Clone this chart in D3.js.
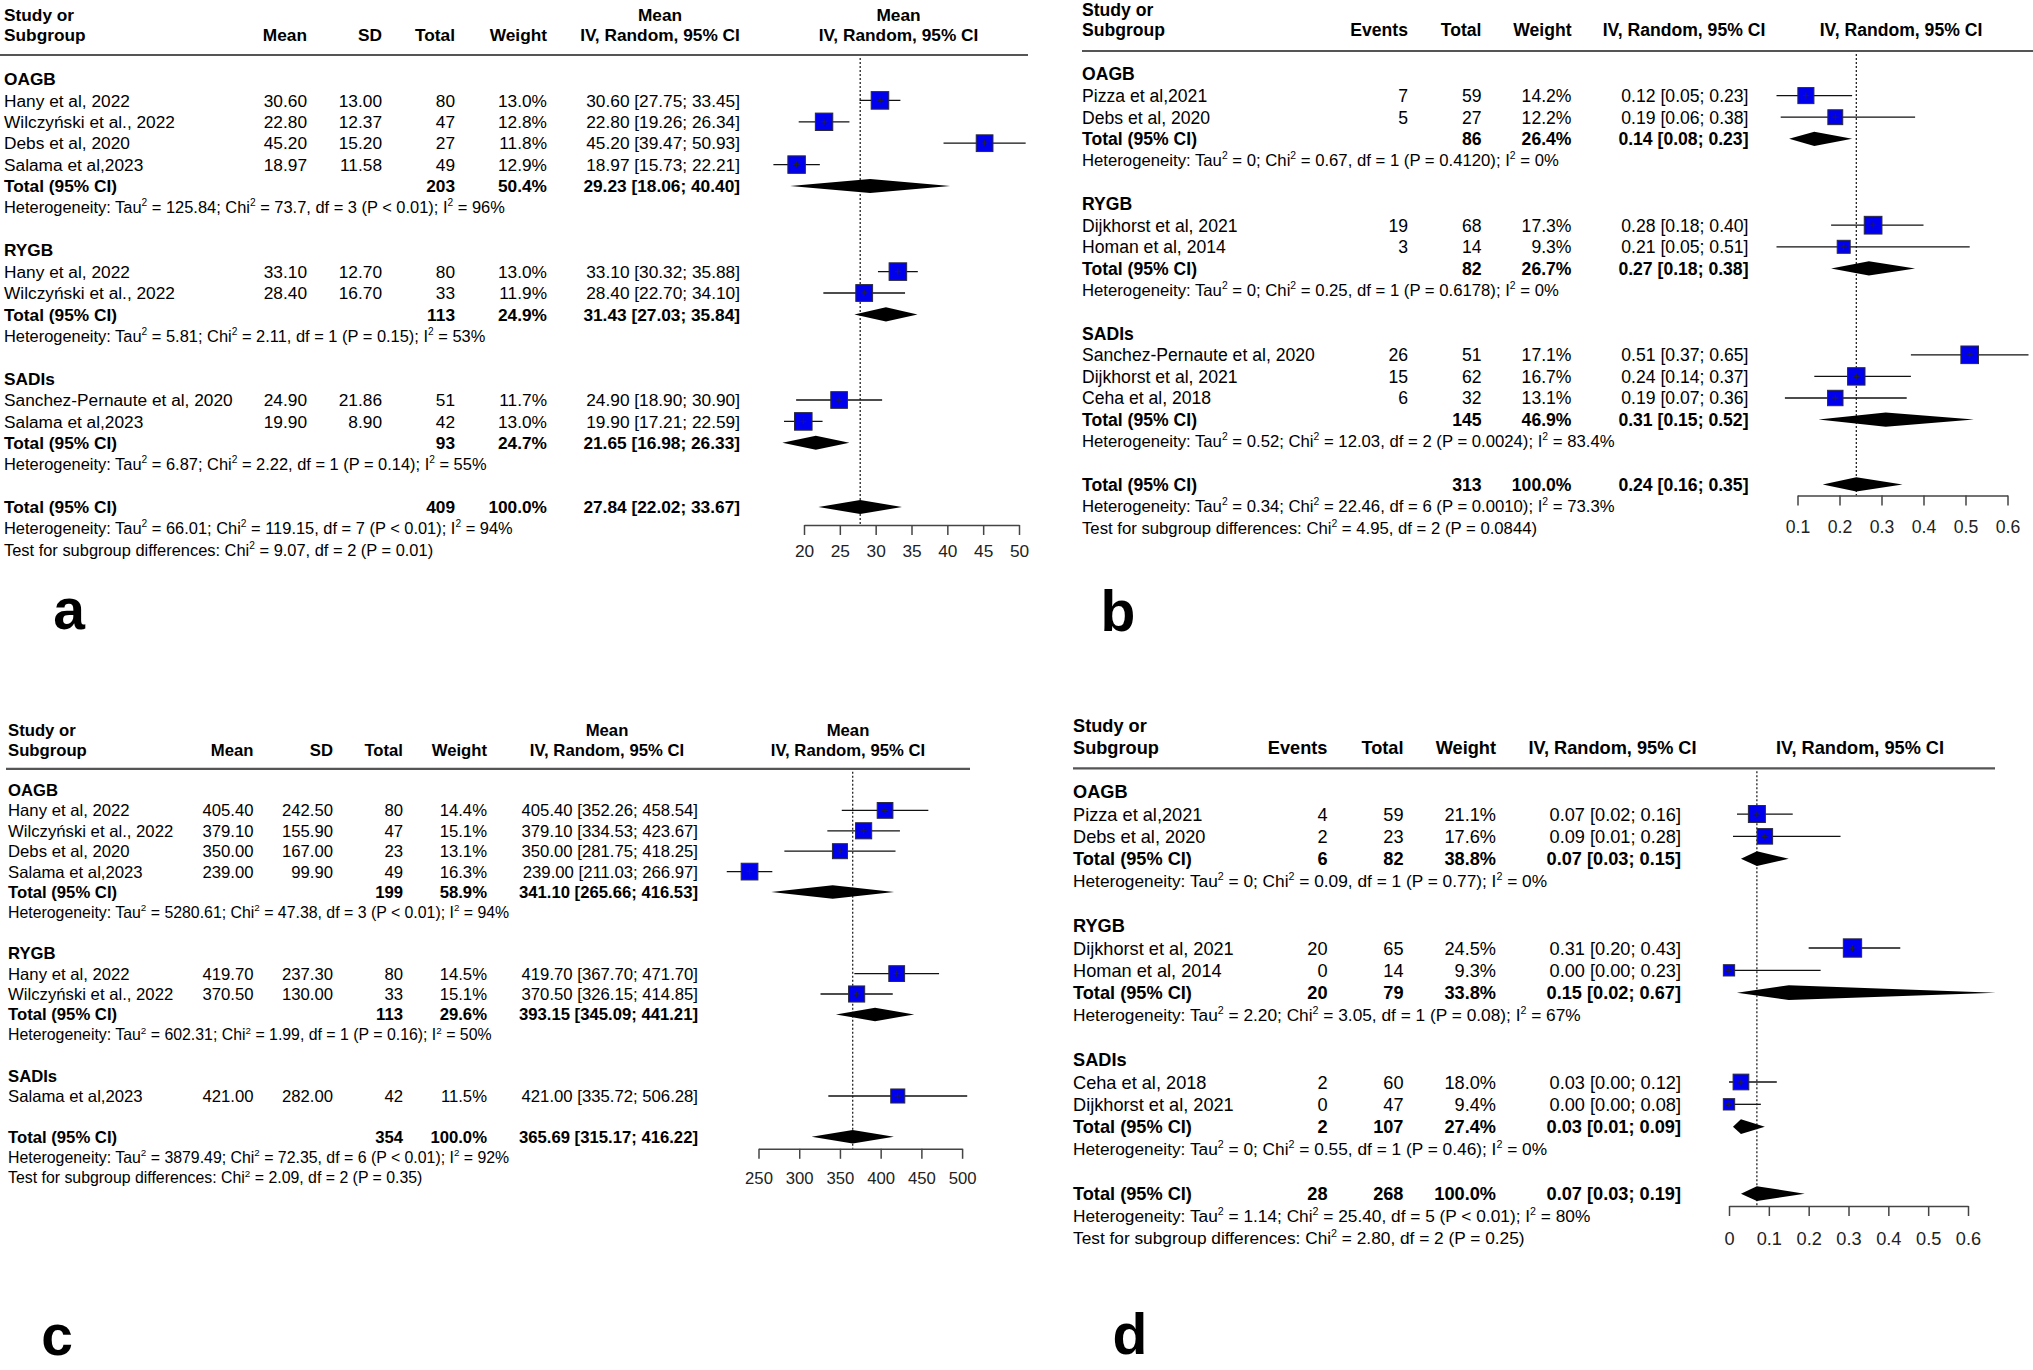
<!DOCTYPE html>
<html>
<head>
<meta charset="utf-8">
<script src="https://cdn.jsdelivr.net/npm/d3@7"></script>
<style>
  body { margin: 0; background: #fff; }
  svg text { font-family: "Liberation Sans", Arial, Helvetica, sans-serif; fill: #000; white-space: pre; }
</style>
</head>
<body>
<script>
// ---------- panel a : mean, IV random ----------
var aGroups = ["OAGB", "RYGB", "SADIs"];
var aStudy = ["Hany et al, 2022", "Wilczyński et al., 2022", "Debs et al, 2020", "Salama et al,2023",
              "Hany et al, 2022", "Wilczyński et al., 2022",
              "Sanchez-Pernaute et al, 2020", "Salama et al,2023"];
var aGroupOf = [0, 0, 0, 0, 1, 1, 2, 2];
var aMean = [30.60, 22.80, 45.20, 18.97, 33.10, 28.40, 24.90, 19.90];
var aSD = [13.00, 12.37, 15.20, 11.58, 12.70, 16.70, 21.86, 8.90];
var aN = [80, 47, 27, 49, 80, 33, 51, 42];
var aW = [13.0, 12.8, 11.8, 12.9, 13.0, 11.9, 11.7, 13.0];
var aLo = [27.75, 19.26, 39.47, 15.73, 30.32, 22.70, 18.90, 17.21];
var aHi = [33.45, 26.34, 50.93, 22.21, 35.88, 34.10, 30.90, 22.59];
var aSubN = [203, 113, 93];
var aSubW = [50.4, 24.9, 24.7];
var aSubEst = [29.23, 31.43, 21.65];
var aSubLo = [18.06, 27.03, 16.98];
var aSubHi = [40.40, 35.84, 26.33];
var aSubHet = ["Heterogeneity: Tau^2 = 125.84; Chi^2 = 73.7, df = 3 (P < 0.01); I^2 = 96%",
               "Heterogeneity: Tau^2 = 5.81; Chi^2 = 2.11, df = 1 (P = 0.15); I^2 = 53%",
               "Heterogeneity: Tau^2 = 6.87; Chi^2 = 2.22, df = 1 (P = 0.14); I^2 = 55%"];
var aAll = [409, 100.0, 27.84, 22.02, 33.67]; // n, weight, est, lo, hi
var aFoot = ["Heterogeneity: Tau^2 = 66.01; Chi^2 = 119.15, df = 7 (P < 0.01); I^2 = 94%",
             "Test for subgroup differences: Chi^2 = 9.07, df = 2 (P = 0.01)"];
var aTicks = [20, 25, 30, 35, 40, 45, 50];

// ---------- panel b : proportions ----------
var bGroups = ["OAGB", "RYGB", "SADIs"];
var bStudy = ["Pizza et al,2021", "Debs et al, 2020", "Dijkhorst et al, 2021", "Homan et al, 2014",
              "Sanchez-Pernaute et al, 2020", "Dijkhorst et al, 2021", "Ceha et al, 2018"];
var bGroupOf = [0, 0, 1, 1, 2, 2, 2];
var bEvents = [7, 5, 19, 3, 26, 15, 6];
var bN = [59, 27, 68, 14, 51, 62, 32];
var bW = [14.2, 12.2, 17.3, 9.3, 17.1, 16.7, 13.1];
var bEst = [0.12, 0.19, 0.28, 0.21, 0.51, 0.24, 0.19];
var bLo = [0.05, 0.06, 0.18, 0.05, 0.37, 0.14, 0.07];
var bHi = [0.23, 0.38, 0.40, 0.51, 0.65, 0.37, 0.36];
var bSubN = [86, 82, 145];
var bSubW = [26.4, 26.7, 46.9];
var bSubEst = [0.14, 0.27, 0.31];
var bSubLo = [0.08, 0.18, 0.15];
var bSubHi = [0.23, 0.38, 0.52];
var bSubHet = ["Heterogeneity: Tau^2 = 0; Chi^2 = 0.67, df = 1 (P = 0.4120); I^2 = 0%",
               "Heterogeneity: Tau^2 = 0; Chi^2 = 0.25, df = 1 (P = 0.6178); I^2 = 0%",
               "Heterogeneity: Tau^2 = 0.52; Chi^2 = 12.03, df = 2 (P = 0.0024); I^2 = 83.4%"];
var bAll = [313, 100.0, 0.24, 0.16, 0.35];
var bFoot = ["Heterogeneity: Tau^2 = 0.34; Chi^2 = 22.46, df = 6 (P = 0.0010); I^2 = 73.3%",
             "Test for subgroup differences: Chi^2 = 4.95, df = 2 (P = 0.0844)"];
var bTicks = [0.1, 0.2, 0.3, 0.4, 0.5, 0.6];

// ---------- panel c : mean, IV random ----------
var cGroups = ["OAGB", "RYGB", "SADIs"];
var cStudy = ["Hany et al, 2022", "Wilczyński et al., 2022", "Debs et al, 2020", "Salama et al,2023",
              "Hany et al, 2022", "Wilczyński et al., 2022", "Salama et al,2023"];
var cGroupOf = [0, 0, 0, 0, 1, 1, 2];
var cMean = [405.40, 379.10, 350.00, 239.00, 419.70, 370.50, 421.00];
var cSD = [242.50, 155.90, 167.00, 99.90, 237.30, 130.00, 282.00];
var cN = [80, 47, 23, 49, 80, 33, 42];
var cW = [14.4, 15.1, 13.1, 16.3, 14.5, 15.1, 11.5];
var cLo = [352.26, 334.53, 281.75, 211.03, 367.70, 326.15, 335.72];
var cHi = [458.54, 423.67, 418.25, 266.97, 471.70, 414.85, 506.28];
var cSubN = [199, 113, null];
var cSubW = [58.9, 29.6, null];
var cSubEst = [341.10, 393.15, null];
var cSubLo = [265.66, 345.09, null];
var cSubHi = [416.53, 441.21, null];
var cSubHet = ["Heterogeneity: Tau^2 = 5280.61; Chi^2 = 47.38, df = 3 (P < 0.01); I^2 = 94%",
               "Heterogeneity: Tau^2 = 602.31; Chi^2 = 1.99, df = 1 (P = 0.16); I^2 = 50%",
               null];
var cAll = [354, 100.0, 365.69, 315.17, 416.22];
var cFoot = ["Heterogeneity: Tau^2 = 3879.49; Chi^2 = 72.35, df = 6 (P < 0.01); I^2 = 92%",
             "Test for subgroup differences: Chi^2 = 2.09, df = 2 (P = 0.35)"];
var cTicks = [250, 300, 350, 400, 450, 500];

// ---------- panel d : proportions ----------
var dGroups = ["OAGB", "RYGB", "SADIs"];
var dStudy = ["Pizza et al,2021", "Debs et al, 2020", "Dijkhorst et al, 2021", "Homan et al, 2014",
              "Ceha et al, 2018", "Dijkhorst et al, 2021"];
var dGroupOf = [0, 0, 1, 1, 2, 2];
var dEvents = [4, 2, 20, 0, 2, 0];
var dN = [59, 23, 65, 14, 60, 47];
var dW = [21.1, 17.6, 24.5, 9.3, 18.0, 9.4];
var dEst = [0.07, 0.09, 0.31, 0.00, 0.03, 0.00];
var dLo = [0.02, 0.01, 0.20, 0.00, 0.00, 0.00];
var dHi = [0.16, 0.28, 0.43, 0.23, 0.12, 0.08];
var dSubEvents = [6, 20, 2];
var dSubN = [82, 79, 107];
var dSubW = [38.8, 33.8, 27.4];
var dSubEst = [0.07, 0.15, 0.03];
var dSubLo = [0.03, 0.02, 0.01];
var dSubHi = [0.15, 0.67, 0.09];
var dSubHet = ["Heterogeneity: Tau^2 = 0; Chi^2 = 0.09, df = 1 (P = 0.77); I^2 = 0%",
               "Heterogeneity: Tau^2 = 2.20; Chi^2 = 3.05, df = 1 (P = 0.08); I^2 = 67%",
               "Heterogeneity: Tau^2 = 0; Chi^2 = 0.55, df = 1 (P = 0.46); I^2 = 0%"];
var dAllEvents = 28;
var dAll = [268, 100.0, 0.07, 0.03, 0.19];
var dFoot = ["Heterogeneity: Tau^2 = 1.14; Chi^2 = 25.40, df = 5 (P < 0.01); I^2 = 80%",
             "Test for subgroup differences: Chi^2 = 2.80, df = 2 (P = 0.25)"];
var dTicks = [0, 0.1, 0.2, 0.3, 0.4, 0.5, 0.6];

var W = 2033, H = 1370;
var f2 = d3.format(".2f"), f1 = d3.format(".1f");
function ci(e, l, h) { return f2(e) + " [" + f2(l) + "; " + f2(h) + "]"; }
function pct(w) { return f1(w) + "%"; }

var svg = d3.select("body").append("svg")
  .attr("width", W)
  .attr("height", H);

// text with "^2" turned into superscripts
function supText(g, str, x, y, fs) {
  var t = g.append("text").attr("x", x).attr("y", y).attr("font-size", fs);
  var parts = str.split("^2");
  parts.forEach(function(p, j) {
    var s = t.append("tspan").text(p);
    if (j > 0) s.attr("dy", fs * 0.42);
    if (j < parts.length - 1)
      t.append("tspan").attr("dy", -fs * 0.42).attr("font-size", fs * 0.62).text("2");
  });
  return t;
}

function forest(p) {
  var g = svg.append("g");
  var fs = p.fs, base = 0.36 * fs;

  // build the row list
  var rows = [];
  p.groups.forEach(function(name, gi) {
    rows.push({type: "group", label: name});
    p.study.forEach(function(s, i) {
      if (p.groupOf[i] === gi) rows.push({type: "study", i: i});
    });
    if (p.subHet[gi] !== null) {
      rows.push({type: "total", gi: gi});
      rows.push({type: "het", text: p.subHet[gi]});
    }
    rows.push({type: "blank"});
  });
  rows.push({type: "overall"});
  p.foot.forEach(function(t) { rows.push({type: "het", text: t}); });
  rows.forEach(function(r, k) { r.y = p.row0 + k * p.step; });

  // headers
  g.append("text").attr("x", p.left).attr("y", p.hdrY[0] + base)
    .attr("font-size", fs).attr("font-weight", "bold").text("Study or");
  g.append("text").attr("x", p.left).attr("y", p.hdrY[1] + base)
    .attr("font-size", fs).attr("font-weight", "bold").text("Subgroup");
  p.cols.forEach(function(c) {
    g.append("text").attr("x", c.x).attr("y", p.hdrY[1] + base)
      .attr("text-anchor", "end").attr("font-size", fs).attr("font-weight", "bold").text(c.head);
  });
  [p.ciHeadX, p.plotHeadX].forEach(function(cx) {
    if (p.meanHead)
      g.append("text").attr("x", cx).attr("y", p.hdrY[0] + base).attr("text-anchor", "middle")
        .attr("font-size", fs).attr("font-weight", "bold").text("Mean");
    g.append("text").attr("x", cx).attr("y", p.hdrY[1] + base).attr("text-anchor", "middle")
      .attr("font-size", fs).attr("font-weight", "bold").text("IV, Random, 95% CI");
  });
  g.append("line")
    .attr("x1", p.ruleX[0]).attr("x2", p.ruleX[1])
    .attr("y1", p.ruleY).attr("y2", p.ruleY)
    .attr("stroke", "#555").attr("stroke-width", 2.2);

  // table text
  rows.forEach(function(r) {
    var y = r.y + base;
    if (r.type === "group") {
      g.append("text").attr("x", p.left).attr("y", y).attr("font-size", fs)
        .attr("font-weight", "bold").text(r.label);
    } else if (r.type === "het") {
      supText(g, r.text, p.left, y - 0.02 * fs, fs * 0.95);
    } else if (r.type !== "blank") {
      var bold = r.type !== "study";
      var label = r.type === "study" ? p.study[r.i] : "Total (95% CI)";
      g.append("text").attr("x", p.left).attr("y", y).attr("font-size", fs)
        .attr("font-weight", bold ? "bold" : null).text(label);
      p.cols.forEach(function(c) {
        var v = r.type === "study" ? c.study(r.i) : r.type === "total" ? c.total(r.gi) : c.overall;
        g.append("text").attr("x", c.x).attr("y", y).attr("text-anchor", "end")
          .attr("font-size", fs).attr("font-weight", bold ? "bold" : null).text(v);
      });
    }
  });

  // plot
  var x = d3.scaleLinear()
    .domain([p.ticks[0], p.ticks[p.ticks.length - 1]])
    .range(p.xRange);

  g.append("line")
    .attr("x1", x(p.all[2])).attr("x2", x(p.all[2]))
    .attr("y1", p.ruleY + 3).attr("y2", p.axisY)
    .attr("stroke", "#111").attr("stroke-width", 1.2)
    .attr("stroke-dasharray", "2,2");

  var wMax = d3.max(p.w);
  var box = 0.82 * p.step, dh = 0.33 * p.step;

  rows.forEach(function(r) {
    if (r.type === "study") {
      var i = r.i, cx = x(p.est[i]);
      var s = box * Math.sqrt(p.w[i] / wMax);
      g.append("line")
        .attr("x1", x(p.lo[i])).attr("x2", x(p.hi[i]))
        .attr("y1", r.y).attr("y2", r.y)
        .attr("stroke", "#111").attr("stroke-width", 1.3);
      g.append("rect")
        .attr("x", cx - s / 2).attr("y", r.y - s / 2)
        .attr("width", s).attr("height", s)
        .attr("fill", "#0000ee").attr("stroke", "#2a2a3a").attr("stroke-width", 1);
      g.append("path")
        .attr("d", "M" + (cx - 3) + "," + r.y + "H" + (cx + 3) + "M" + cx + "," + (r.y - 3) + "V" + (r.y + 3))
        .attr("stroke", "#222").attr("stroke-width", 1);
    } else if (r.type === "total" || r.type === "overall") {
      var e, l, h;
      if (r.type === "total") { e = p.subEst[r.gi]; l = p.subLo[r.gi]; h = p.subHi[r.gi]; }
      else { e = p.all[2]; l = p.all[3]; h = p.all[4]; }
      g.append("polygon")
        .attr("points", [[x(l), r.y], [x(e), r.y - dh], [x(h), r.y], [x(e), r.y + dh]].join(" "))
        .attr("fill", "#000");
    }
  });

  var ax = g.append("g")
    .attr("transform", "translate(0," + p.axisY + ")")
    .call(d3.axisBottom(x).tickValues(p.ticks).tickSize(10).tickSizeOuter(0)
      .tickPadding(p.tickPad).tickFormat(p.tickFmt));
  ax.select(".domain").attr("stroke", "#444").attr("stroke-width", 1.5);
  ax.selectAll(".tick line").attr("stroke", "#444").attr("stroke-width", 1.5);
  ax.selectAll(".tick text")
    .attr("font-size", fs)
    .attr("font-family", "'Liberation Sans', Arial, sans-serif")
    .style("fill", "#222");

  svg.append("text")
    .attr("x", p.letter[1]).attr("y", p.letter[2])
    .attr("text-anchor", "middle")
    .attr("font-size", 57).attr("font-weight", "bold")
    .text(p.letter[0]);
}

function blank() { return ""; }

forest({
  groups: aGroups, study: aStudy, groupOf: aGroupOf, w: aW, est: aMean, lo: aLo, hi: aHi,
  subEst: aSubEst, subLo: aSubLo, subHi: aSubHi, subHet: aSubHet, all: aAll, foot: aFoot,
  ticks: aTicks, tickFmt: d3.format("d"),
  cols: [
    {x: 307, head: "Mean", study: function(i) { return f2(aMean[i]); }, total: blank, overall: ""},
    {x: 382, head: "SD", study: function(i) { return f2(aSD[i]); }, total: blank, overall: ""},
    {x: 455, head: "Total", study: function(i) { return aN[i]; }, total: function(k) { return aSubN[k]; }, overall: aAll[0]},
    {x: 547, head: "Weight", study: function(i) { return pct(aW[i]); }, total: function(k) { return pct(aSubW[k]); }, overall: pct(aAll[1])},
    {x: 740, head: "", study: function(i) { return ci(aMean[i], aLo[i], aHi[i]); },
     total: function(k) { return ci(aSubEst[k], aSubLo[k], aSubHi[k]); }, overall: ci(aAll[2], aAll[3], aAll[4])}
  ],
  left: 4, hdrY: [15, 35], ruleY: 55, ruleX: [0, 1028], row0: 79, step: 21.4, fs: 17.3,
  meanHead: true, ciHeadX: 660, plotHeadX: 898.5,
  axisY: 525, xRange: [804, 1019], tickPad: 10,
  letter: ["a", 69, 629]
});

forest({
  groups: bGroups, study: bStudy, groupOf: bGroupOf, w: bW, est: bEst, lo: bLo, hi: bHi,
  subEst: bSubEst, subLo: bSubLo, subHi: bSubHi, subHet: bSubHet, all: bAll, foot: bFoot,
  ticks: bTicks, tickFmt: d3.format(".1f"),
  cols: [
    {x: 1408, head: "Events", study: function(i) { return bEvents[i]; }, total: blank, overall: ""},
    {x: 1481.5, head: "Total", study: function(i) { return bN[i]; }, total: function(k) { return bSubN[k]; }, overall: bAll[0]},
    {x: 1571.5, head: "Weight", study: function(i) { return pct(bW[i]); }, total: function(k) { return pct(bSubW[k]); }, overall: pct(bAll[1])},
    {x: 1748.5, head: "", study: function(i) { return ci(bEst[i], bLo[i], bHi[i]); },
     total: function(k) { return ci(bSubEst[k], bSubLo[k], bSubHi[k]); }, overall: ci(bAll[2], bAll[3], bAll[4])}
  ],
  left: 1082, hdrY: [9.5, 30], ruleY: 51, ruleX: [1082, 2033], row0: 74, step: 21.6, fs: 17.6,
  meanHead: false, ciHeadX: 1684, plotHeadX: 1901,
  axisY: 495.5, xRange: [1797.5, 2007.5], tickPad: 15.5,
  letter: ["b", 1118, 631]
});

forest({
  groups: cGroups, study: cStudy, groupOf: cGroupOf, w: cW, est: cMean, lo: cLo, hi: cHi,
  subEst: cSubEst, subLo: cSubLo, subHi: cSubHi, subHet: cSubHet, all: cAll, foot: cFoot,
  ticks: cTicks, tickFmt: d3.format("d"),
  cols: [
    {x: 253.5, head: "Mean", study: function(i) { return f2(cMean[i]); }, total: blank, overall: ""},
    {x: 333, head: "SD", study: function(i) { return f2(cSD[i]); }, total: blank, overall: ""},
    {x: 403, head: "Total", study: function(i) { return cN[i]; }, total: function(k) { return cSubN[k]; }, overall: cAll[0]},
    {x: 487, head: "Weight", study: function(i) { return pct(cW[i]); }, total: function(k) { return pct(cSubW[k]); }, overall: pct(cAll[1])},
    {x: 698, head: "", study: function(i) { return ci(cMean[i], cLo[i], cHi[i]); },
     total: function(k) { return ci(cSubEst[k], cSubLo[k], cSubHi[k]); }, overall: ci(cAll[2], cAll[3], cAll[4])}
  ],
  left: 8, hdrY: [729.5, 749.5], ruleY: 768.8, ruleX: [6, 970], row0: 790, step: 20.4, fs: 16.7,
  meanHead: true, ciHeadX: 607, plotHeadX: 848,
  axisY: 1148.8, xRange: [758.5, 962.1], tickPad: 13.5,
  letter: ["c", 57, 1355]
});

forest({
  groups: dGroups, study: dStudy, groupOf: dGroupOf, w: dW, est: dEst, lo: dLo, hi: dHi,
  subEst: dSubEst, subLo: dSubLo, subHi: dSubHi, subHet: dSubHet, all: dAll, foot: dFoot,
  ticks: dTicks, tickFmt: function(v) { return v === 0 ? "0" : d3.format(".1f")(v); },
  cols: [
    {x: 1327.5, head: "Events", study: function(i) { return dEvents[i]; }, total: function(k) { return dSubEvents[k]; }, overall: dAllEvents},
    {x: 1403.5, head: "Total", study: function(i) { return dN[i]; }, total: function(k) { return dSubN[k]; }, overall: dAll[0]},
    {x: 1496, head: "Weight", study: function(i) { return pct(dW[i]); }, total: function(k) { return pct(dSubW[k]); }, overall: pct(dAll[1])},
    {x: 1681, head: "", study: function(i) { return ci(dEst[i], dLo[i], dHi[i]); },
     total: function(k) { return ci(dSubEst[k], dSubLo[k], dSubHi[k]); }, overall: ci(dAll[2], dAll[3], dAll[4])}
  ],
  left: 1073, hdrY: [725, 747], ruleY: 768.3, ruleX: [1073, 1995], row0: 791.7, step: 22.33, fs: 18.2,
  meanHead: false, ciHeadX: 1612.5, plotHeadX: 1860,
  axisY: 1206, xRange: [1729, 1968], tickPad: 16,
  letter: ["d", 1130, 1354]
});
</script>
</body>
</html>
